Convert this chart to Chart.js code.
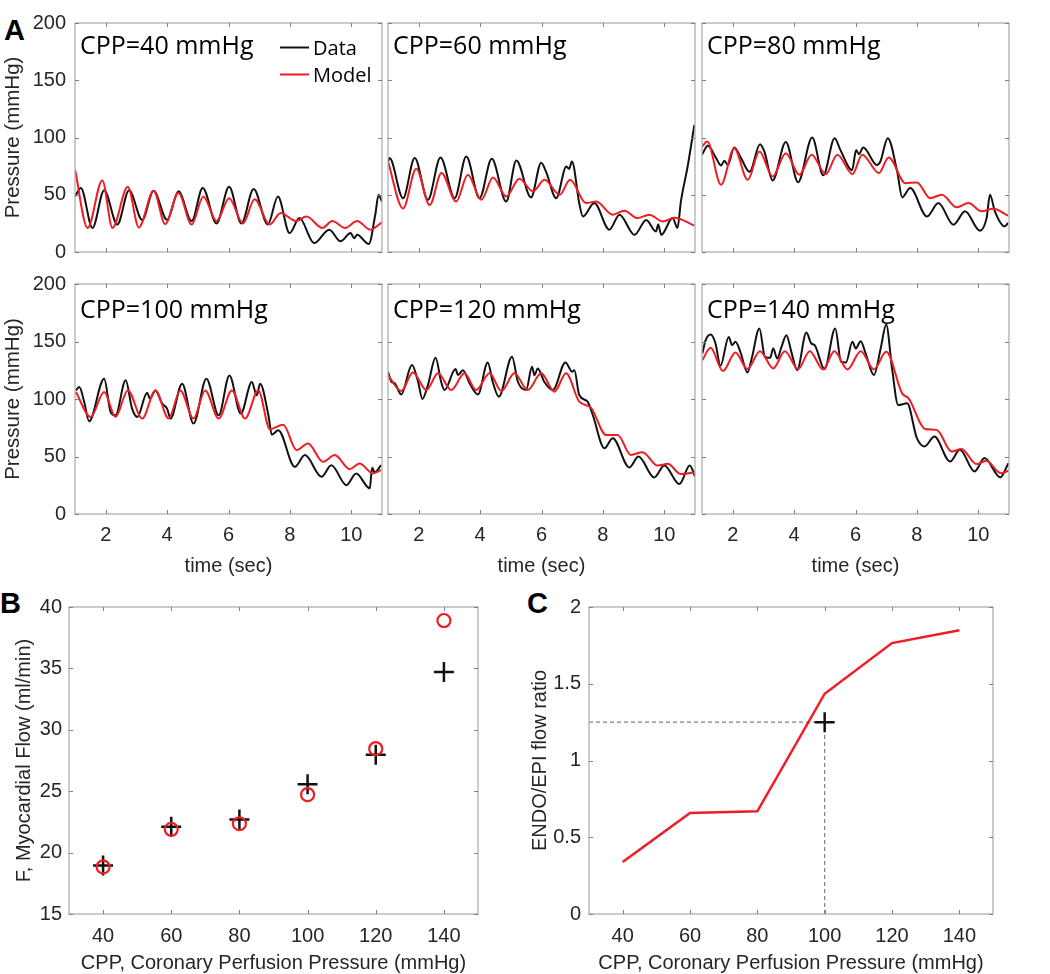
<!DOCTYPE html>
<html><head><meta charset="utf-8">
<script src="https://cdn.jsdelivr.net/npm/chart.js@4.4.0/dist/chart.umd.min.js"></script>
<style>
html,body{margin:0;padding:0;background:#fff;width:1050px;height:974px;overflow:hidden;position:relative}
canvas{position:absolute}
.lab{position:absolute;font-family:"Liberation Sans",Arial,sans-serif;font-weight:bold;font-size:29px;color:#000;line-height:1}
</style></head><body>
<div class="lab" style="left:4px;top:16px">A</div>
<div class="lab" style="left:0px;top:589px">B</div>
<div class="lab" style="left:527px;top:589px">C</div>
<script>
// ---------- DATA ----------
// Panel A, CPP = 40 mmHg
const tData40  = [1.0, 1.19, 1.57, 1.95, 2.38, 2.76, 3.19, 3.56, 4.0, 4.37, 4.8, 5.16, 5.61, 6.02, 6.42, 6.82, 7.28, 7.61, 7.99, 8.31, 8.79, 9.28, 9.65, 9.98, 10.09, 10.19, 10.57, 10.78, 10.89, 11.0];
const pData40  = [48.5, 56, 21, 54, 24, 54, 28, 53.5, 28, 53, 27, 56, 25, 57, 25, 55, 24, 48.5, 16.5, 29.6, 7.8, 19.5, 9.3, 16.5, 12, 15, 7, 32.5, 50, 44];
const tModel40 = [1.0, 1.41, 1.89, 2.22, 2.72, 3.08, 3.56, 3.94, 4.37, 4.8, 5.18, 5.61, 6.02, 6.47, 6.85, 7.34, 7.7, 8.2, 8.54, 9.06, 9.38, 9.8, 10.19, 10.62, 11.0];
const pModel40 = [72, 21, 62.5, 21, 57, 21.5, 53.5, 24.4, 51.5, 24, 48.5, 27, 47, 25, 46, 24, 34, 27, 31, 21, 27, 21, 27, 19.5, 26];
// CPP = 60 mmHg
const tData60  = [1.0, 1.05, 1.49, 1.87, 2.3, 2.71, 3.17, 3.55, 3.98, 4.38, 4.85, 5.18, 5.66, 5.99, 6.15, 6.48, 6.81, 6.9, 6.99, 7.24, 7.35, 7.72, 8.21, 8.54, 9.03, 9.41, 9.73, 9.8, 9.9, 10.27, 10.43, 10.54, 10.76, 10.98];
const pData60  = [79, 82, 47, 82, 45.6, 82.6, 47, 83.4, 47, 81.4, 44, 80, 47.7, 78, 70, 47, 74.7, 72.6, 79, 41, 31, 42.7, 19.5, 32.6, 15, 28, 18, 24, 15, 29.6, 21, 44, 74.7, 111];
const tModel60 = [1.0, 1.49, 1.92, 2.36, 2.74, 3.22, 3.6, 4.04, 4.42, 4.85, 5.28, 5.72, 6.1, 6.59, 6.93, 7.45, 7.78, 8.32, 8.7, 9.13, 9.51, 9.95, 10.33, 10.98];
const pModel60 = [79, 38, 72.7, 41, 69, 44, 67.4, 45.6, 65, 48.5, 64, 53, 63, 50, 63, 42.7, 44, 32.6, 36, 29.6, 32.6, 26.7, 30, 23];
// CPP = 80 mmHg
const tData80  = [1.0, 1.19, 1.46, 1.62, 1.73, 1.84, 2.05, 2.27, 2.55, 2.89, 3.03, 3.3, 3.73, 4.13, 4.59, 4.95, 5.32, 5.51, 5.89, 6.02, 6.11, 6.25, 6.7, 6.81, 7.05, 7.36, 7.52, 7.78, 8.33, 8.7, 9.19, 9.57, 10.05, 10.27, 10.38, 10.54, 10.86, 10.97];
const pData80  = [85, 92.7, 82, 75.6, 79.7, 76, 91.3, 82, 70, 94.2, 87.8, 62.5, 96, 61, 100, 67, 99.4, 89, 71.5, 89, 85.5, 91.3, 76, 79, 99.4, 70, 47.7, 55.8, 31, 42.7, 23.8, 35.5, 18.6, 29.6, 50, 35.5, 22.4, 25.3];
const tModel80 = [1.0, 1.17, 1.62, 2.05, 2.49, 2.87, 3.3, 3.73, 4.17, 4.57, 5.03, 5.41, 5.9, 6.22, 6.76, 7.08, 7.63, 8.0, 8.43, 8.81, 9.3, 9.68, 10.11, 10.49, 10.97];
const pModel80 = [92, 96.5, 58.7, 90.7, 63, 87.8, 66, 86.3, 67.4, 85, 68, 85, 68, 85, 69, 82.5, 60, 60.8, 47, 50, 39, 42.7, 35.5, 37.8, 31.7];
// CPP = 100 mmHg
const tData100  = [1.03, 1.14, 1.3, 1.46, 1.95, 2.16, 2.32, 2.65, 2.86, 3.03, 3.35, 3.44, 3.62, 3.84, 4.0, 4.11, 4.49, 4.86, 5.28, 5.68, 6.03, 6.4, 6.76, 6.92, 7.03, 7.3, 7.41, 7.62, 8.16, 8.49, 9.03, 9.35, 9.84, 10.16, 10.6, 10.68, 10.76, 10.97];
const pData100  = [107.5, 110.4, 97.4, 80.6, 117.6, 88.7, 85.8, 116.2, 91.6, 84.4, 105.5, 100.3, 107.5, 96, 91.6, 83, 113.3, 78.6, 117.6, 85.8, 120.5, 87.3, 114.7, 103.2, 113.3, 85.8, 69, 72.8, 41, 51.2, 32.4, 42.5, 25.1, 35.3, 22.3, 40.2, 36.1, 42.5];
const tModel100 = [1.03, 1.51, 1.95, 2.32, 2.72, 3.19, 3.62, 4.05, 4.43, 4.86, 5.24, 5.68, 6.11, 6.54, 6.97, 7.35, 7.78, 8.22, 8.59, 9.08, 9.46, 9.95, 10.27, 10.7, 10.97];
const pModel100 = [106, 84.4, 106, 84.4, 107.5, 83, 107.5, 83, 107.5, 83, 107.5, 83, 107.5, 83, 107.5, 73.7, 77.7, 55.5, 61.3, 45.4, 51.2, 39, 43.9, 35.3, 38.2];
// CPP = 120 mmHg
const tData120  = [1.0, 1.11, 1.22, 1.43, 1.78, 1.98, 2.12, 2.3, 2.55, 2.73, 2.84, 3.2, 3.28, 3.44, 3.66, 3.93, 4.25, 4.41, 4.61, 5.04, 5.23, 5.5, 5.69, 5.77, 5.88, 6.09, 6.37, 6.78, 7.0, 7.07, 7.23, 7.5, 7.67, 8.05, 8.32, 8.86, 9.16, 9.67, 10.0, 10.49, 10.83, 11.0];
const pData120  = [123.7, 115, 113.6, 104, 129.5, 115, 100, 112, 135.8, 115, 107.8, 126, 120.8, 125.1, 113.6, 104, 131.8, 115, 102, 136.7, 115, 107.8, 128, 120.8, 126.6, 115, 107.8, 131.8, 123.7, 125.1, 103.5, 97.7, 86.1, 57.2, 65.9, 40.5, 50, 31.8, 42.2, 26, 42.2, 32.7];
const tModel120 = [1.0, 1.43, 1.81, 2.25, 2.63, 3.06, 3.49, 3.87, 4.31, 4.69, 5.12, 5.55, 5.99, 6.42, 6.8, 7.23, 7.61, 8.1, 8.48, 8.91, 9.29, 9.78, 10.11, 10.54, 11.0];
const pModel120 = [120.8, 106.9, 123.1, 107.8, 122.3, 107.8, 122.3, 107.8, 122.3, 106.9, 122.3, 107.8, 122.3, 106.4, 122.3, 97.7, 92.5, 68.8, 68.8, 51.4, 53.8, 42.2, 43.6, 34.7, 36.4];
// CPP = 140 mmHg
const tData140  = [1.01, 1.12, 1.28, 1.44, 1.6, 1.87, 1.98, 2.09, 2.25, 2.48, 2.62, 2.87, 3.05, 3.22, 3.32, 3.45, 3.59, 3.75, 3.91, 4.1, 4.4, 4.56, 4.67, 4.99, 5.34, 5.53, 5.69, 5.9, 6.01, 6.17, 6.33, 6.6, 6.82, 7.0, 7.19, 7.39, 7.68, 8.0, 8.25, 8.57, 9.08, 9.4, 9.88, 10.2, 10.72, 10.98];
const pData140  = [139.6, 151.2, 156, 148.3, 128.9, 154, 146.8, 149.7, 141, 123.1, 135.3, 161.3, 136.7, 135.8, 144, 135.3, 145.4, 155.5, 141, 125.1, 157.8, 148.3, 146.8, 126, 161.3, 132.4, 131.8, 149.7, 144, 150.3, 139.6, 120.8, 144, 164.7, 126.6, 94.8, 96.2, 65.9, 58.7, 67.3, 45.7, 55.8, 37, 48.6, 31.8, 44.2];
const tModel140 = [1.01, 1.28, 1.68, 2.09, 2.48, 2.89, 3.32, 3.7, 4.13, 4.51, 4.94, 5.31, 5.74, 6.17, 6.6, 7.0, 7.52, 7.73, 8.27, 8.65, 9.13, 9.45, 9.94, 10.26, 10.74, 10.98];
const pModel140 = [133.8, 144.5, 124.3, 140.5, 126, 141.6, 126.6, 141.6, 126, 141.6, 125.7, 141.6, 125.7, 141.6, 125.7, 141, 104.9, 100.6, 74, 73.1, 54.3, 56.6, 43.4, 46.2, 35.5, 37.6];
const timeTicks = [2, 4, 6, 8, 10];
const pressureTicks = [0, 50, 100, 150, 200];
const cppTitles = ['CPP=40 mmHg', 'CPP=60 mmHg', 'CPP=80 mmHg', 'CPP=100 mmHg', 'CPP=120 mmHg', 'CPP=140 mmHg'];

// Panels B and C
const cppLevels = [40, 60, 80, 100, 120, 140];
const flowData  = [18.94, 22.1, 22.7, 25.56, 27.97, 34.7];
const flowModel = [18.83, 21.9, 22.35, 24.72, 28.46, 38.9];
const flowTicks = [15, 20, 25, 30, 35, 40];
const ratioModel = [0.339, 0.658, 0.669, 1.435, 1.765, 1.848];
const ratioDataCpp = [100];
const ratioData = [1.25];
const ratioTicks = [0, 0.5, 1, 1.5, 2];

// ---------- STYLE ----------
const FONT = '"Liberation Sans", Arial, sans-serif';
const MYR = '"Open Sans", "Noto Sans", sans-serif';
const TXT = '#262626';
const BOX = '#b0b0b0';
const TICKC = '#808080';
const RED = '#f01c24';
const BLK = '#111111';

const zip = (xs, ys) => xs.map((x, i) => ({x: x, y: ys[i]}));
function curve(xs, ys, color, w) {
  return {data: zip(xs, ys), showLine: true, borderColor: color, backgroundColor: color,
    borderWidth: w || 2, pointRadius: 0, cubicInterpolationMode: 'monotone', fill: false};
}

function mkCanvas(cx, cy, cw, ch) {
  const c = document.createElement('canvas');
  c.width = cw; c.height = ch;
  c.style.left = cx + 'px'; c.style.top = cy + 'px';
  c.style.width = cw + 'px'; c.style.height = ch + 'px';
  document.body.appendChild(c);
  return c;
}

const framePlugin = {
  id: 'frame',
  afterDatasetsDraw(chart) {
    const ctx = chart.ctx, a = chart.chartArea, x = chart.scales.x, y = chart.scales.y;
    ctx.save();
    ctx.strokeStyle = BOX; ctx.lineWidth = 1.3;
    ctx.strokeRect(a.left, a.top, a.right - a.left, a.bottom - a.top);
    ctx.strokeStyle = TICKC; ctx.lineWidth = 1;
    const tl = 4;
    ctx.beginPath();
    x.ticks.forEach(t => {
      const p = Math.round(x.getPixelForValue(t.value)) + 0.5;
      ctx.moveTo(p, a.bottom); ctx.lineTo(p, a.bottom - tl);
      ctx.moveTo(p, a.top); ctx.lineTo(p, a.top + tl);
    });
    y.ticks.forEach(t => {
      const p = Math.round(y.getPixelForValue(t.value)) + 0.5;
      ctx.moveTo(a.left, p); ctx.lineTo(a.left + tl, p);
      ctx.moveTo(a.right, p); ctx.lineTo(a.right - tl, p);
    });
    ctx.stroke();
    ctx.restore();
  }
};

function panel(o) {
  const c = mkCanvas(o.cx, o.cy, o.cw, o.ch);
  return new Chart(c, {
    type: 'scatter',
    data: {datasets: o.datasets},
    options: {
      responsive: false, animation: false, devicePixelRatio: 1,
      layout: {padding: {left: 0, top: o.T - o.cy, right: o.cx + o.cw - o.R, bottom: 0}},
      plugins: {legend: {display: false}, tooltip: {enabled: false}, title: {display: false}},
      scales: {
        x: {
          type: 'linear', position: 'bottom', min: o.xMin, max: o.xMax,
          grid: {display: false, drawTicks: false}, border: {display: false},
          ticks: {display: !!o.showX, padding: o.xPad || 10, color: TXT, font: {family: FONT, size: 20},
                  autoSkip: false, maxRotation: 0, callback: v => String(v)},
          afterBuildTicks: s => { s.ticks = o.xTicks.map(v => ({value: v})); },
          afterFit: s => { s.height = o.cy + o.ch - o.B; },
          title: {display: !!o.xTitle, text: o.xTitle || '', color: TXT, font: {family: FONT, size: 20},
                  padding: {top: 0, bottom: o.xTitlePad || 0}}
        },
        y: {
          type: 'linear', position: 'left', min: o.yMin, max: o.yMax,
          grid: {display: false, drawTicks: false}, border: {display: false},
          ticks: {display: !!o.showY, padding: o.yPad || 8, color: TXT, font: {family: FONT, size: 20},
                  autoSkip: false, callback: v => String(v)},
          afterBuildTicks: s => { s.ticks = o.yTicks.map(v => ({value: v})); },
          afterFit: s => { s.width = o.L - o.cx; },
          title: {display: !!o.yTitle, text: o.yTitle || '', color: TXT, font: {family: FONT, size: o.yTitleSize || 20},
                  padding: {top: o.yTitlePad || 0, bottom: 0}}
        }
      }
    },
    plugins: [framePlugin, {id: 'deco', afterDraw: ch => { if (o.deco) o.deco(ch.ctx, ch); }}]
  });
}

function titleDeco(text, dy) {
  return (ctx, ch) => {
    ctx.save();
    ctx.fillStyle = '#000';
    ctx.font = '25px ' + MYR;
    ctx.textBaseline = 'alphabetic';
    ctx.fillText(text, ch.chartArea.left + 5, ch.chartArea.top + dy);
    ctx.restore();
  };
}

// ---------- PANEL A ----------
const colsA = [{L: 75, R: 382, cx: 0, cw: 386}, {L: 388, R: 695, cx: 378, cw: 321}, {L: 702, R: 1009, cx: 692, cw: 358}];
const rowsA = [{T: 23, B: 252, cy: 0, ch: 276, dy: 31}, {T: 284, B: 514, cy: 262, ch: 320, dy: 34}];
const seriesA = [
  [tData40, pData40, tModel40, pModel40], [tData60, pData60, tModel60, pModel60], [tData80, pData80, tModel80, pModel80],
  [tData100, pData100, tModel100, pModel100], [tData120, pData120, tModel120, pModel120], [tData140, pData140, tModel140, pModel140]
];
seriesA.forEach((s, i) => {
  const col = colsA[i % 3], row = rowsA[Math.floor(i / 3)];
  const base = titleDeco(cppTitles[i], row.dy);
  const deco = i === 0 ? (ctx, ch) => {
    base(ctx, ch);
    ctx.save();
    ctx.lineWidth = 2;
    ctx.strokeStyle = BLK; ctx.beginPath(); ctx.moveTo(280, 47.5); ctx.lineTo(309, 47.5); ctx.stroke();
    ctx.strokeStyle = RED; ctx.beginPath(); ctx.moveTo(280, 74.5); ctx.lineTo(309, 74.5); ctx.stroke();
    ctx.fillStyle = '#000'; ctx.font = '20px ' + MYR; ctx.textBaseline = 'alphabetic';
    ctx.fillText('Data', 313, 54.5);
    ctx.fillText('Model', 313, 82);
    ctx.restore();
  } : base;
  panel({
    cx: col.cx, cy: row.cy, cw: col.cw, ch: row.ch, L: col.L, R: col.R, T: row.T, B: row.B,
    xMin: 1, xMax: 11, xTicks: timeTicks, yMin: 0, yMax: 200, yTicks: pressureTicks,
    showX: row.cy > 0, showY: i % 3 === 0, xPad: 9, yPad: 9,
    xTitle: row.cy > 0 ? 'time (sec)' : null, xTitlePad: 4,
    yTitle: i % 3 === 0 ? 'Pressure (mmHg)' : null, yTitlePad: 1, yTitleSize: 20.5,
    datasets: [curve(s[2], s[3], RED, 2), curve(s[0], s[1], BLK, 2)],
    deco: deco
  });
});

// ---------- PANEL B ----------
panel({
  cx: 0, cy: 585, cw: 505, ch: 390, L: 69, R: 478, T: 607, B: 914,
  xMin: 30, xMax: 150, xTicks: cppLevels, yMin: 15, yMax: 40, yTicks: flowTicks,
  showX: true, showY: true, xPad: 10, yPad: 7,
  xTitle: 'CPP, Coronary Perfusion Pressure (mmHg)', xTitlePad: 0,
  yTitle: 'F, Myocardial Flow (ml/min)', yTitlePad: 12,
  datasets: [
    {data: zip(cppLevels, flowModel), pointStyle: 'circle', pointRadius: 6.5, borderColor: RED, backgroundColor: 'rgba(0,0,0,0)', borderWidth: 2.2, showLine: false},
    {data: zip(cppLevels, flowData), pointStyle: 'cross', pointRadius: 10, borderColor: BLK, backgroundColor: BLK, borderWidth: 2.5, showLine: false}
  ],
  deco: (ctx, ch) => {
    ctx.save();
    ctx.strokeStyle = BLK; ctx.lineWidth = 2.5;
    ctx.beginPath(); ctx.moveTo(377, 866); ctx.lineTo(397, 866); ctx.moveTo(387, 856); ctx.lineTo(387, 876); ctx.stroke();
    ctx.strokeStyle = RED; ctx.lineWidth = 2.2;
    ctx.beginPath(); ctx.arc(387, 891, 6.5, 0, Math.PI * 2); ctx.stroke();
    ctx.fillStyle = TXT; ctx.font = '20px ' + FONT; ctx.textBaseline = 'alphabetic';
    ctx.fillText('Data', 409, 872.5);
    ctx.fillText('Model', 409, 899);
    ctx.restore();
  }
});

// ---------- PANEL C ----------
panel({
  cx: 520, cy: 585, cw: 530, ch: 390, L: 589, R: 993, T: 607, B: 914,
  xMin: 30, xMax: 150, xTicks: cppLevels, yMin: 0, yMax: 2, yTicks: ratioTicks,
  showX: true, showY: true, xPad: 10, yPad: 8,
  xTitle: 'CPP, Coronary Perfusion Pressure (mmHg)', xTitlePad: 0,
  yTitle: 'ENDO/EPI flow ratio', yTitlePad: 8,
  datasets: [
    {data: zip(ratioDataCpp, ratioData), pointStyle: 'cross', pointRadius: 10, borderColor: BLK, backgroundColor: BLK, borderWidth: 2.5, showLine: false},
    {data: zip(cppLevels, ratioModel), showLine: true, borderColor: RED, borderWidth: 2.5, pointRadius: 0, tension: 0, fill: false},
    {data: [{x: 30, y: ratioData[0]}, {x: ratioDataCpp[0], y: ratioData[0]}], showLine: true, borderColor: '#808080', borderWidth: 1.2, borderDash: [4, 3], pointRadius: 0},
    {data: [{x: ratioDataCpp[0], y: 0}, {x: ratioDataCpp[0], y: ratioData[0]}], showLine: true, borderColor: '#808080', borderWidth: 1.2, borderDash: [4, 3], pointRadius: 0}
  ],
  deco: (ctx, ch) => {
    ctx.save();
    ctx.strokeStyle = BLK; ctx.lineWidth = 2.5;
    ctx.beginPath(); ctx.moveTo(894, 866); ctx.lineTo(914, 866); ctx.moveTo(904, 856); ctx.lineTo(904, 876); ctx.stroke();
    ctx.strokeStyle = RED; ctx.lineWidth = 2.5;
    ctx.beginPath(); ctx.moveTo(885, 891); ctx.lineTo(923, 891); ctx.stroke();
    ctx.fillStyle = TXT; ctx.font = '20px ' + FONT; ctx.textBaseline = 'alphabetic';
    ctx.fillText('Data', 925, 872.5);
    ctx.fillText('Model', 925, 899);
    ctx.restore();
  }
});
</script>
</body></html>
